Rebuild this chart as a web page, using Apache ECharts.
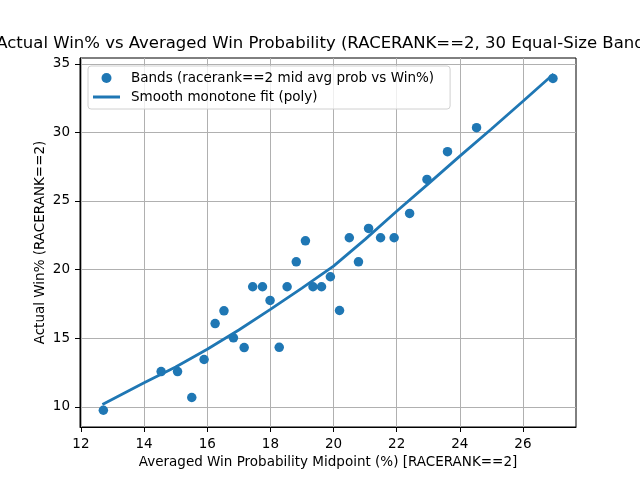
<!DOCTYPE html>
<html>
<head>
<meta charset="utf-8">
<script src="https://cdn.jsdelivr.net/npm/echarts@6/dist/echarts.min.js"></script>
<style>html,body{margin:0;padding:0;background:#fff}#c{width:640px;height:480px}</style>
</head>
<body>
<div id="c"></div>
<script>
var bandX = [12.71,14.54,15.06,15.51,15.90,16.25,16.53,16.83,17.17,17.44,17.75,17.99,18.28,18.53,18.82,19.11,19.35,19.62,19.90,20.19,20.50,20.79,21.11,21.49,21.92,22.41,22.96,23.61,24.53,26.95];
var bandY = [9.75,12.57,12.57,10.68,13.45,16.07,17.00,15.03,14.32,18.75,18.75,17.75,14.34,18.75,20.57,22.10,18.75,18.75,19.48,17.02,22.32,20.57,23.00,22.32,22.32,24.09,26.57,28.59,30.34,33.93];
var fitX = [12.68,14,15,16,17,18,19,20,21,22,23,24,25,26,26.97];
var fitY = [10.17,11.75,12.9,14.2,15.6,17.1,18.65,20.25,22.2,24.25,26.25,28.27,30.25,32.27,34.25];
var xTicks = [12,14,16,18,20,22,24,26];
var yTicks = [10,15,20,25,30,35];

var FONT = 'DejaVu Sans';
var C = '#1f77b4';
var chart = echarts.init(document.getElementById('c'), null, {renderer:'canvas'});
var scatterData = bandX.map(function(x,i){return [x, bandY[i]];});
var fitData = fitX.map(function(x,i){return [x, fitY[i]];});

function axisCommon(ticks){
  return {
    axisLine:{onZero:false, lineStyle:{color:'#000', width:1}},
    axisTick:{show:true, inside:false, length:5, lineStyle:{color:'#000'}, customValues:ticks},
    axisLabel:{color:'#000', fontFamily:FONT, fontSize:13.5, customValues:ticks, showMinLabel:true, showMaxLabel:true},
    splitLine:{show:true, lineStyle:{color:'#b0b0b0', width:1}},
    nameTextStyle:{color:'#000', fontFamily:FONT, fontSize:13.5},
    nameMoveOverlap:false
  };
}
var xa = axisCommon(xTicks);
xa.type='value'; xa.min=11.97; xa.max=27.68;
xa.name='Averaged Win Probability Midpoint (%) [RACERANK==2]';
xa.nameLocation='middle'; xa.nameGap=28;
xa.axisLabel.margin=10;
var ya = axisCommon(yTicks);
ya.type='value'; ya.min=8.53; ya.max=35.42;
ya.name='Actual Win% (RACERANK==2)';
ya.nameLocation='middle'; ya.nameGap=33;
ya.axisLabel.margin=10;

chart.setOption({
  animation:false,
  grid:{left:80, right:64, top:58, bottom:53, show:true, borderColor:'#000', borderWidth:1},
  graphic:[{type:'text', x:328, y:44, style:{text:'Actual Win% vs Averaged Win Probability (RACERANK==2, 30 Equal-Size Bands)', font:'16.5px "DejaVu Sans"', fill:'#000', textAlign:'center', textVerticalAlign:'middle'}}],
  legend:{
    left:88, top:66, orient:'vertical', itemWidth:27, itemHeight:10, itemGap:5,
    padding:[5,16,5,5], borderColor:'#d0d0d0', borderWidth:1, borderRadius:3, backgroundColor:'rgba(255,255,255,0.8)',
    textStyle:{fontFamily:FONT, fontSize:13.5, color:'#000', padding:[0,0,0,6]},
    data:[
      {name:'Bands (racerank==2 mid avg prob vs Win%)', icon:'circle', itemStyle:{color:C, opacity:1}},
      {name:'Smooth monotone fit (poly)', icon:'path://M0 0 H27 V3 H0 Z', itemStyle:{color:C}}
    ]
  },
  xAxis:xa,
  yAxis:ya,
  series:[
    {name:'Bands (racerank==2 mid avg prob vs Win%)', type:'scatter', data:scatterData, symbolSize:9.5, itemStyle:{color:C, opacity:1}, z:2},
    {name:'Smooth monotone fit (poly)', type:'line', data:fitData, smooth:false, showSymbol:false, symbol:'none', lineStyle:{color:C, width:2.8}, itemStyle:{color:C}, z:3}
  ]
});
</script>
</body>
</html>
